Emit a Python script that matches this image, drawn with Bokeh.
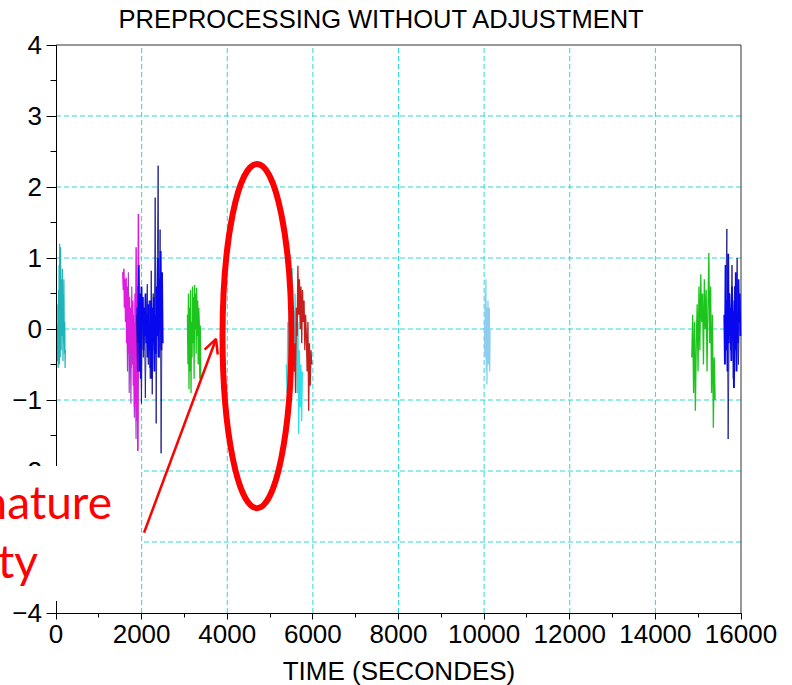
from bokeh.plotting import figure
from bokeh.models import Range1d, SingleIntervalTicker, Arrow, OpenHead
from bokeh.core.properties import value
from bokeh.embed import file_html
from bokeh.resources import INLINE

# ---------------- data ----------------
x_ticks = [0, 2000, 4000, 6000, 8000, 10000, 12000, 14000, 16000]
y_ticks = [-4, -3, -2, -1, 0, 1, 2, 3, 4]
title_text = "PREPROCESSING WITHOUT ADJUSTMENT"
x_label = "TIME (SECONDES)"

# each segment: (start time, sample step, values)
teal_t0, teal_dt = 30, 7
teal_y = [0.05, -0.45, 0.35, -0.55, 0.55, -0.2, 0.9, -0.5, 1.2, 0.1, -0.4, 1.15, 0.3, -0.3,
          0.7, 0.5, -0.1, 0.85, 0.2, -0.45, 0.4, -0.2, 0.7, 0.15, -0.35, 0.1, -0.55, -0.3]

magenta_t0, magenta_dt = 1560, 13
magenta_y = [0.8, 0.55, 0.85, 0.3, 0.7, 0.1, 0.72, -0.2, 0.6, 0.0, 0.5, -0.35, 0.45, -0.1, 0.3,
             -0.55, 0.2, -0.3, 0.4, -0.8, 0.1, -1.1, 0.5, -0.4, 1.15, -1.3, 0.6, -1.72, 1.62, -0.6, 0.2]

violet_t0, violet_dt = 1650, 20
violet_y = [0.5, -0.6, 0.8, -0.9, 0.3, -1.05, 0.6, -0.5, 0.2, -1.25, -0.3, -1.55, 0.4, -1.7, -0.2]

blue_t0, blue_dt = 1900, 16
blue_y = [0.3, -0.2, 0.9, -0.6, 0.5, -0.7, 0.6, 0.1, 0.45, -0.3, 0.3, -0.1, 0.5, -0.2, 0.2, -0.4,
          0.35, -0.3, 0.1, -0.55, 0.4, -0.7, 0.3, -0.2, 0.45, -0.6, 0.2, -0.35, 0.6, -0.1, 1.0,
          -0.4, 0.7, 0.0, 1.1, -0.3, 0.8, -0.2]

navy_t0, navy_dt = 1880, 23
navy_y = [0.2, -0.6, 0.4, -0.2, 0.1, -1.05, 0.3, -0.4, 0.2, -0.97, 0.1, 0.63, -0.5, 0.4, -0.7,
          0.82, -0.92, 0.5, -0.3, 1.85, -1.33, 0.6, 2.3, -0.4, 1.4, -1.75, 0.3]

green_t0, green_dt = 3070, 12
green_y = [0.2, -0.5, 0.5, -0.85, 0.3, -0.6, 0.55, -0.9, 0.1, -0.4, 0.6, -0.2, 0.45, -0.7, 0.62,
           0.0, 0.5, -0.35, 0.58, -0.1, 0.4, -0.5, 0.3, 0.1, -0.7, 0.05, -0.75]

cyan_t0, cyan_dt = 5380, 17
cyan_y = [-0.5, -0.9, 0.1, -0.7, 0.3, -0.3, 1.05, -0.4, 0.86, -0.1, 0.25, -0.6, 0.5, -0.2, 0.3,
          -0.9, 0.1, -1.48, -0.3, -1.1, -0.5, -1.3, -0.6]

red_t0, red_dt = 5560, 18
red_y = [-0.6, -0.2, -0.9, 0.3, -0.1, 0.89, 0.2, 0.7, 0.0, 0.6, -0.2, 0.55, 0.1, 0.4, -0.3, 0.2,
         -0.1, -0.6, 0.1, -1.15, -0.2, -0.8, -0.3, -0.5]

lightblue_t0, lightblue_dt = 10010, 8
lightblue_y = [0.1, -0.4, 0.5, -0.2, 0.7, -0.6, 0.3, -0.78, 0.2, -0.3, 0.4, -0.5, 0.1, -0.2, 0.3,
               -0.6, 0.0]

green2_t0, green2_dt = 14850, 21
green2_y = [-0.4, 0.2, -0.9, 0.1, -1.15, -0.2, 0.35, -0.6, 0.6, -0.3, 0.77, 0.1, 0.5, -0.5, 0.7,
            0.0, 0.55, -0.6, 0.3, 1.07, -0.2, 0.6, -0.9, 0.2, -1.39, -0.4, -1.0]

blue2_t0, blue2_dt = 15610, 15
blue2_y = [0.2, -0.5, 0.9, -0.3, 0.4, -0.6, 1.06, -0.2, 0.5, -0.1, 0.3, -0.45, 0.6, 0.0, 0.25,
           -0.83, 0.4, -0.3, 0.8, -0.6, 0.2, -0.2, 0.7, 0.1, 0.5, -0.1]

navy2_t0, navy2_dt = 15640, 30
navy2_y = [0.3, 1.41, -1.55, 0.5, -0.3, 0.9, -0.7, 0.6, -0.2, 1.0, -0.5, 0.4]

# highlight annotation (data coordinates)
ellipse_x, ellipse_y, ellipse_w, ellipse_h = 4695, -0.1, 1610, 4.85
arrow_from = (2056, -2.87)
arrow_to = (3738, -0.14)
note_lines = ["nature", "ty"]
note_x = [-1740, -1360]
note_y = [-2.43, -3.26]
note_box = (-1300, 1985, -1.93, -3.83)   # left, right, top, bottom
title_pos = (1460, 4.366)

segments = [
    (teal_t0, teal_dt, teal_y, "#20b4b8", 1.2),
    (violet_t0, violet_dt, violet_y, "#9a3cc8", 1.1),
    (magenta_t0, magenta_dt, magenta_y, "#e01ce0", 1.5),
    (navy_t0, navy_dt, navy_y, "#1c1c8a", 0.9),
    (blue_t0, blue_dt, blue_y, "#0808ee", 1.9),
    (green_t0, green_dt, green_y, "#1ec41e", 1.3),
    (cyan_t0, cyan_dt, cyan_y, "#2ee0e8", 1.3),
    (red_t0, red_dt, red_y, "#c41e1e", 1.3),
    (lightblue_t0, lightblue_dt, lightblue_y, "#8ccdf0", 1.3),
    (green2_t0, green2_dt, green2_y, "#1ec41e", 1.3),
    (navy2_t0, navy2_dt, navy2_y, "#1c1c8a", 0.9),
    (blue2_t0, blue2_dt, blue2_y, "#0808ee", 1.9),
]

FONT = "Liberation Sans"
W, H = 792, 685
PX_X = 16000 / 685.0      # data units per pixel (x)
PX_Y = 1 / 71.0           # data units per pixel (y)

p = figure(width=W, height=H, output_backend="svg", toolbar_location=None,
           x_range=Range1d(-55.5 * PX_X, 16000 + (W - 55.5 - 685) * PX_X),
           y_range=Range1d(-4 - (H - 44.5 - 568) * PX_Y, 4 + 44.5 * PX_Y),
           min_border_left=0, min_border_right=0, min_border_top=0, min_border_bottom=0,
           background_fill_color="white", border_fill_color="white")
p.outline_line_color = None
p.xgrid.visible = False
p.ygrid.visible = False

# axes drawn at the plot-area edges (fixed locations)
xa = p.xaxis[0]
ya = p.yaxis[0]
xa.fixed_location = y_ticks[0]
ya.fixed_location = x_ticks[0]
xa.bounds = (x_ticks[0], x_ticks[-1])
ya.bounds = (y_ticks[0], y_ticks[-1])
xa.ticker = SingleIntervalTicker(interval=2000, num_minor_ticks=2)
ya.ticker = SingleIntervalTicker(interval=1, num_minor_ticks=2)
for ax in (xa, ya):
    ax.axis_line_color = "black"
    ax.major_tick_line_color = "black"
    ax.minor_tick_line_color = "black"
    ax.major_tick_in = 0
    ax.minor_tick_in = 0
    ax.major_label_text_font = FONT
    ax.major_label_text_font_size = "26px"
    ax.major_label_text_color = "black"
xa.major_tick_out = 6
xa.minor_tick_out = 4
xa.major_label_standoff = 6
xa.axis_label = x_label
xa.axis_label_text_font = FONT
xa.axis_label_text_font_size = "26px"
xa.axis_label_text_font_style = "normal"
xa.axis_label_text_color = "black"
xa.axis_label_standoff = 9
ya.major_tick_out = 10
ya.minor_tick_out = 6
ya.major_label_standoff = 4

# dashed grid inside the plot area
gx = x_ticks[1:-1]
gy = y_ticks[1:-1]
p.segment(x0=gx, y0=[y_ticks[0]] * len(gx), x1=gx, y1=[y_ticks[-1]] * len(gx),
          line_color="#33d4d4", line_width=1, line_dash="5 3")
p.segment(x0=[x_ticks[0]] * len(gy), y0=gy, x1=[x_ticks[-1]] * len(gy), y1=gy,
          line_color="#33d4d4", line_width=1, line_dash="5 3")
# top and right frame lines
p.line([x_ticks[0], x_ticks[-1], x_ticks[-1]], [y_ticks[-1], y_ticks[-1], y_ticks[0]],
       line_color="#333333", line_width=1)

for t0, dt, ys, col, lw in segments:
    xs = [t0 + dt * i for i in range(len(ys))]
    p.line(xs, ys, line_color=col, line_width=lw)

p.ellipse(x=[ellipse_x], y=[ellipse_y], width=ellipse_w, height=ellipse_h,
          fill_color=None, line_color="#ff0000", line_width=6)

p.add_layout(Arrow(end=OpenHead(size=14, line_color="#ff0000", line_width=2.5),
                   x_start=arrow_from[0], y_start=arrow_from[1],
                   x_end=arrow_to[0], y_end=arrow_to[1],
                   line_color="#ff0000", line_width=2.5))

# title
p.text(x=[title_pos[0]], y=[title_pos[1]], text=[title_text], text_font=value(FONT),
       text_font_size="25.5px", text_color="black", text_align="left",
       text_baseline="alphabetic")

# white callout box with red text (drawn over the axis)
p.quad(left=[note_box[0]], right=[note_box[1]], top=[note_box[2]], bottom=[note_box[3]],
       fill_color="white", line_color=None, level="overlay")
p.text(x=note_x, y=note_y, text=note_lines, text_font=value("Lato"),
       text_font_size="46px", text_color="#ff0000", text_align="left",
       text_baseline="alphabetic", level="overlay")

open("out.html", "w").write(file_html(p, INLINE))
